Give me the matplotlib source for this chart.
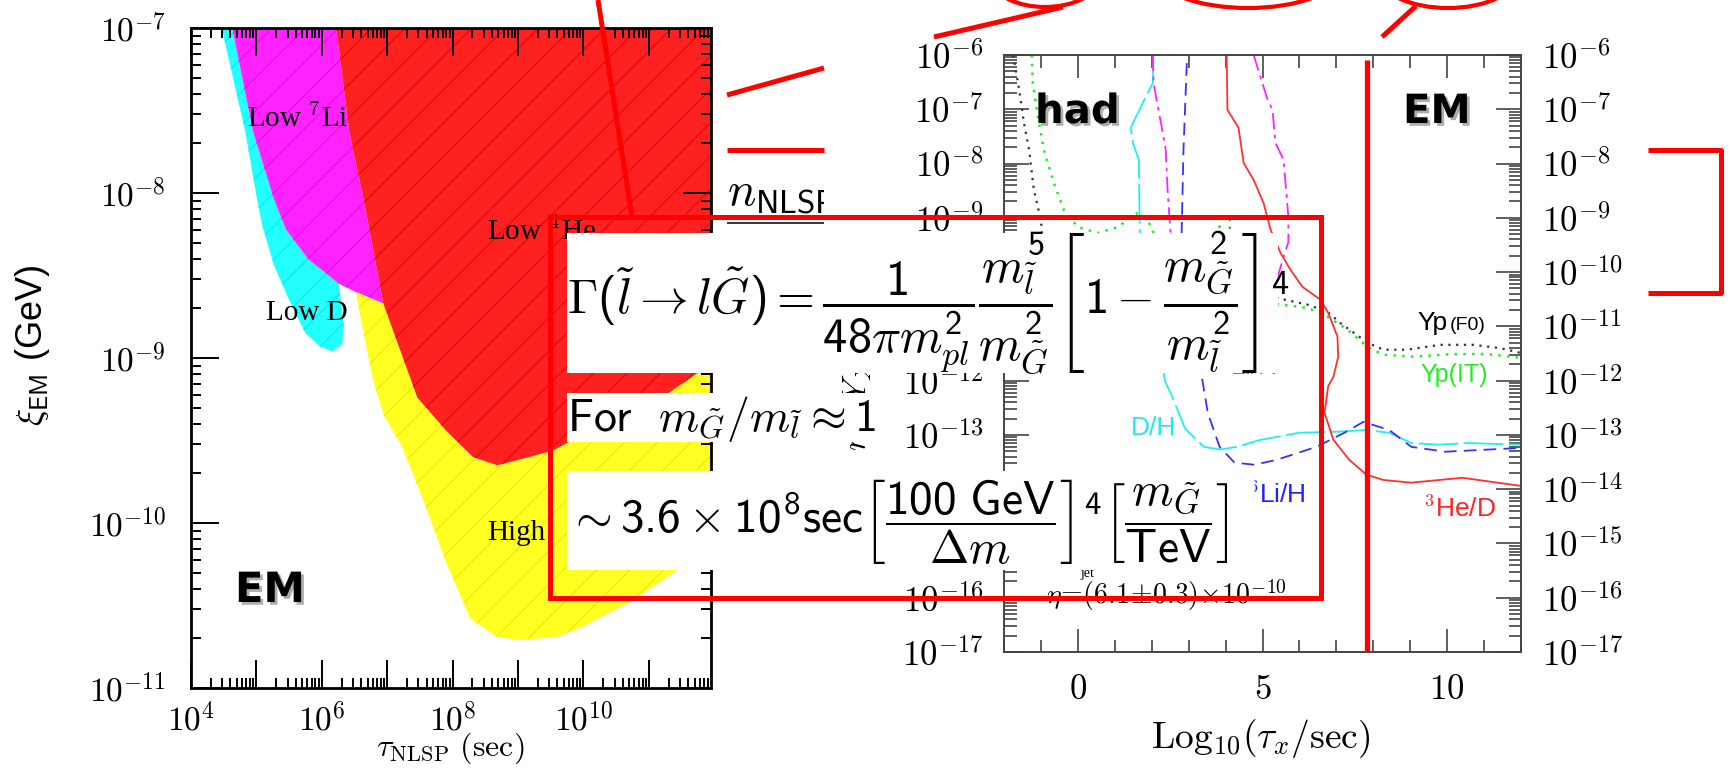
import numpy as np
import matplotlib
matplotlib.use('Agg')
import matplotlib.pyplot as plt
from matplotlib.patches import Rectangle, Ellipse
from matplotlib.lines import Line2D
from matplotlib.transforms import Affine2D, Bbox, TransformedBbox
from matplotlib.ticker import LogLocator, MultipleLocator, FuncFormatter, NullFormatter
import matplotlib.patheffects as pe

plt.rcParams['font.family'] = ['Liberation Sans', 'DejaVu Sans']
plt.rcParams['mathtext.fontset'] = 'cm'
# 'custom' set (sans digits/words, math italic letters) is used by the slide equations
plt.rcParams['mathtext.rm'] = 'cmss10'
plt.rcParams['mathtext.sf'] = 'cmss10'
plt.rcParams['mathtext.it'] = 'cmmi10'
plt.rcParams['mathtext.fallback'] = 'cm'
plt.rcParams['hatch.linewidth'] = 1.0

##############################################################################
# LEFT PANEL DATA  (log10 tau, log10 xi) - excluded regions
##############################################################################
cyan_lx = [4.47, 4.83, 5.01, 5.09, 5.27, 5.49, 5.75, 5.97, 6.16, 6.31, 6.34, 6.26,
           5.79, 5.45, 5.27, 4.95, 4.63]
cyan_ly = [-7.0, -7.63, -8.04, -8.20, -8.44, -8.64, -8.85, -8.93, -8.96, -8.92, -8.81, -8.55,
           -8.40, -8.22, -8.04, -7.63, -7.0]

mag_lx = [4.63, 4.95, 5.27, 5.45, 5.79, 6.26, 6.52, 6.94, 6.64, 6.42, 6.22]
mag_ly = [-7.0, -7.63, -8.04, -8.22, -8.40, -8.55, -8.60, -8.67, -8.04, -7.63, -7.0]

red_lx = [6.22, 11.95, 11.95, 11.75, 11.16, 10.3, 9.54, 9.08, 8.68, 8.31, 7.90, 7.46,
          6.94, 6.64, 6.42]
red_ly = [-7.0, -7.0, -9.06, -9.09, -9.25, -9.40, -9.56, -9.61, -9.65, -9.60, -9.44, -9.24,
          -8.67, -8.04, -7.63]

yel_lx = [6.52, 6.94, 7.46, 7.90, 8.31, 8.68, 9.08, 9.54, 10.3, 11.16, 11.75, 11.95,
          11.95, 11.46, 10.71, 9.98, 9.60, 9.02, 8.68, 8.27, 7.90, 7.53, 7.23, 6.95,
          6.78, 6.64]
yel_ly = [-8.60, -8.67, -9.24, -9.44, -9.60, -9.65, -9.61, -9.56, -9.40, -9.25, -9.09, -9.06,
          -10.21, -10.28, -10.48, -10.63, -10.69, -10.71, -10.69, -10.58, -10.24, -9.84,
          -9.54, -9.35, -9.13, -8.85]

##############################################################################
# RIGHT PANEL DATA  (log10 tau_x, log10 of the bound)
##############################################################################
f0_x = [-1.75, -1.59, -1.46, -1.32, -1.19, -1.0, -0.97, 0.0, 2.0, 4.0, 5.41, 6.22, 6.76,
        7.11, 7.84, 8.27, 8.92, 9.81, 10.70, 11.43, 12.0]
f0_y = [-6.0, -6.64, -7.25, -7.75, -8.49, -9.04, -9.28, -9.8, -10.1, -10.35, -10.48, -10.60,
        -10.73, -10.94, -11.30, -11.43, -11.43, -11.34, -11.34, -11.40, -11.49]

it_x = [-1.25, -1.22, -1.08, -0.92, -0.65, -0.38, 0.0, 0.54, 1.08, 1.62, 1.9, 2.05, 3.0,
        4.5, 5.41, 6.22, 6.76, 7.30, 7.84, 8.27, 9.08, 10.16, 11.08, 12.0]
it_y = [-6.0, -6.52, -7.14, -7.75, -8.36, -8.85, -9.17, -9.28, -9.17, -8.91, -9.05, -9.28,
        -10.0, -10.45, -10.59, -10.66, -10.82, -11.06, -11.38, -11.52, -11.56, -11.51,
        -11.51, -11.58]

it2_x = [3.83, 3.85, 4.0, 4.1, 4.12]
it2_y = [-9.0, -9.6, -9.8, -9.6, -9.0]

dh_x = [2.05, 2.03, 1.89, 1.43, 1.49, 1.65, 1.68, 1.9, 2.3, 2.35, 2.59, 2.9, 3.41, 3.86,
        4.3, 4.95, 6.0, 7.05, 7.81, 8.43, 9.03, 9.78, 10.54, 12.0]
dh_y = [-6.0, -6.52, -6.70, -7.34, -7.62, -7.93, -9.28, -10.5, -11.7, -11.99, -12.35,
        -12.88, -13.22, -13.27, -13.22, -13.09, -12.96, -12.94, -12.91, -12.96, -13.15,
        -13.18, -13.15, -13.18]

li7a_x = [2.03, 2.05, 2.30, 2.38, 2.43, 2.51, 2.6, 2.8]
li7a_y = [-6.0, -6.52, -7.44, -7.75, -8.49, -9.28, -10.0, -10.8]

li6_x = [2.95, 2.86, 2.81, 2.9, 3.2, 3.35, 3.52, 3.84, 4.24, 4.78, 5.38, 6.46, 7.22, 7.73,
         8.43, 9.03, 9.95, 12.0]
li6_y = [-6.15, -7.75, -9.28, -10.5, -11.5, -11.9, -12.6, -13.22, -13.51, -13.55, -13.46,
         -13.22, -12.96, -12.76, -12.91, -13.22, -13.31, -13.24]

he3_x = [4.03, 4.05, 4.35, 4.49, 4.76, 5.03, 5.22, 5.49, 5.76, 6.08, 6.57, 6.78, 7.03,
         7.05, 6.92, 6.78, 6.68, 6.92, 7.35, 7.81, 8.27, 9.03, 10.41, 12.0]
he3_y = [-6.0, -7.01, -7.34, -7.99, -8.30, -8.73, -9.22, -9.65, -9.96, -10.27, -10.51,
         -10.75, -11.19, -11.56, -11.93, -12.10, -12.59, -13.09, -13.46, -13.73, -13.83,
         -13.88, -13.79, -13.94]

li7b_x = [4.76, 5.14, 5.27, 5.35, 5.57, 5.70, 5.70, 5.57, 5.41]
li7b_y = [-6.0, -6.83, -7.01, -7.62, -7.93, -8.98, -9.45, -9.72, -10.09]

em_boundary = 7.84   # log10(tau) where hadronic -> EM

##############################################################################
# FIGURE
##############################################################################
W, H = 1730, 770
fig = plt.figure(figsize=(W / 100, H / 100), dpi=100)
fig.patch.set_facecolor('white')
# slide pixel coordinates (origin top-left) for the overlaid slide elements
PX = Affine2D().scale(1 / 100, -1 / 100).translate(0, H / 100) + fig.dpi_scale_trans

# ---------------- left panel ----------------
ax1 = fig.add_axes([191 / W, 1 - 688 / H, 520 / W, 660 / H])
ax1.set_xscale('log')
ax1.set_yscale('log')
ax1.set_xlim(1e4, 10 ** 11.95)
ax1.set_ylim(1e-11, 1e-7)

regions = [
    (cyan_lx, cyan_ly, '#22ffff', '#10eaea'),
    (mag_lx, mag_ly, '#ff22ff', '#ea10ea'),
    (yel_lx, yel_ly, '#ffff22', '#ecec10'),
    (red_lx, red_ly, '#ff2020', '#ea0c0c'),
]
for lx, ly, fc, hc in regions:
    ax1.fill(10 ** np.array(lx), 10 ** np.array(ly), facecolor=fc, edgecolor=hc,
             hatch='/', lw=0, zorder=1)

ax1.xaxis.set_major_locator(LogLocator(base=10, numticks=20))
ax1.xaxis.set_minor_locator(LogLocator(base=10, subs=np.arange(2, 10), numticks=100))
ax1.yaxis.set_major_locator(LogLocator(base=10, numticks=20))
ax1.yaxis.set_minor_locator(LogLocator(base=10, subs=np.arange(2, 10), numticks=100))
ax1.xaxis.set_major_formatter(FuncFormatter(
    lambda v, p: r'$10^{%d}$' % round(np.log10(v)) if round(np.log10(v)) % 2 == 0 else ''))
ax1.yaxis.set_major_formatter(FuncFormatter(lambda v, p: r'$10^{%d}$' % round(np.log10(v))))
ax1.xaxis.set_minor_formatter(NullFormatter())
ax1.yaxis.set_minor_formatter(NullFormatter())
ax1.tick_params(which='both', direction='in', top=True, right=True, width=1.4, colors='black')
ax1.tick_params(which='major', length=20, labelsize=24)
ax1.tick_params(which='minor', length=7.5)
ax1.tick_params(axis='y', pad=18)
ax1.tick_params(axis='x', pad=11)
for s in ax1.spines.values():
    s.set_linewidth(2.0)
    s.set_zorder(3)

serif = ['Liberation Serif', 'DejaVu Serif']
ax1.text(247, 127, r'Low $^7$Li', transform=PX, family=serif, fontsize=21, va='baseline')
ax1.text(266, 320, 'Low D', transform=PX, family=serif, fontsize=21, va='baseline')
ax1.text(487, 240, r'Low $^4$He', transform=PX, family=serif, fontsize=21, va='baseline')
ax1.text(487, 540, 'High', transform=PX, family=serif, fontsize=21, va='baseline')
shadow = [pe.withSimplePatchShadow(offset=(2, -2), shadow_rgbFace='#777777', alpha=0.6)]
ax1.text(270, 590, 'EM', transform=PX, fontsize=30, fontweight='bold', family='DejaVu Sans',
         ha='center', va='center', path_effects=shadow)

fig.text(32, 345, r'$\xi_{\mathsf{EM}}$ (GeV)', transform=PX, rotation=90, fontsize=26,
         ha='center', va='center')
fig.text(450, 748, r'$\tau_{\mathrm{NLSP}}\ (\mathrm{sec})$', transform=PX, fontsize=23,
         ha='center', va='center')

# ---------------- right panel ----------------
ax2 = fig.add_axes([1004 / W, 1 - 652 / H, 517 / W, 597 / H])
ax2.set_yscale('log')
ax2.set_xlim(-2, 12)
ax2.set_ylim(1e-17, 1e-6)

cw = 1.3
ax2.plot(f0_x, 10 ** np.array(f0_y), color='#333333', ls=(0, (1, 2.5)), lw=1.6)
ax2.plot(it_x, 10 ** np.array(it_y), color='#22ee22', ls=(0, (1, 2.5)), lw=1.8)
ax2.plot(it2_x, 10 ** np.array(it2_y), color='#22aa22', ls=(0, (1, 2.5)), lw=1.6)
ax2.plot(dh_x, 10 ** np.array(dh_y), color='#22eeee', ls=(0, (22, 3)), lw=cw)
ax2.plot(li7a_x, 10 ** np.array(li7a_y), color='#ff22ff', ls=(0, (9, 3, 2, 3)), lw=cw)
ax2.plot(li7b_x, 10 ** np.array(li7b_y), color='#ff22ff', ls=(0, (9, 3, 2, 3)), lw=cw)
ax2.plot(li6_x, 10 ** np.array(li6_y), color='#3333ff', ls=(0, (7, 4)), lw=cw)
ax2.plot(he3_x, 10 ** np.array(he3_y), color='#ff3030', lw=cw)
ax2.plot([em_boundary, em_boundary], [1e-17, 10 ** -6.09], color='#ff0000', lw=3.8,
         solid_capstyle='butt')

ax2.xaxis.set_major_locator(MultipleLocator(5))
ax2.xaxis.set_minor_locator(MultipleLocator(1))
ax2.xaxis.set_major_formatter(FuncFormatter(lambda v, p: '$%d$' % round(v)))
ax2.yaxis.set_major_locator(LogLocator(base=10, numticks=30))
ax2.yaxis.set_minor_locator(LogLocator(base=10, subs=np.arange(2, 10), numticks=200))
ax2.yaxis.set_major_formatter(FuncFormatter(lambda v, p: r'$10^{%d}$' % round(np.log10(v))))
ax2.yaxis.set_minor_formatter(NullFormatter())
ax2.tick_params(which='both', direction='in', top=True, right=True, width=1.2,
                colors='#444444', labelcolor='black')
ax2.tick_params(axis='y', labelleft=True, labelright=True, labelsize=25, pad=15)
ax2.tick_params(axis='x', labelsize=25, pad=15)
ax2.tick_params(axis='y', which='major', length=18)
ax2.tick_params(axis='y', which='minor', length=9)
ax2.tick_params(axis='x', which='major', length=16.5)
ax2.tick_params(axis='x', which='minor', length=9)
for s in ax2.spines.values():
    s.set_linewidth(1.4)
    s.set_color('#444444')

ax2.text(1035, 123, 'had', transform=PX, fontsize=29, fontweight='bold', family='DejaVu Sans',
         va='baseline', path_effects=shadow)
ax2.text(1403, 123, 'EM', transform=PX, fontsize=29, fontweight='bold', family='DejaVu Sans',
         va='baseline', path_effects=shadow)

fig.text(1417, 330, 'Yp', transform=PX, fontsize=19, va='baseline')
fig.text(1450, 330, '(F0)', transform=PX, fontsize=14, va='baseline')
fig.text(1420, 382, 'Yp(IT)', transform=PX, fontsize=18, va='baseline', color='#22ee22')
fig.text(1131, 435, 'D/H', transform=PX, fontsize=19, va='baseline', color='#22e8e8')
fig.text(1247, 503, r'$^6$Li/H', transform=PX, fontsize=19, va='baseline', color='#2222ff')
fig.text(1423, 517, r'$^3$He/D', transform=PX, fontsize=19, va='baseline', color='#ff2222')
fig.text(1218, 380, r'$^7$Li/H', transform=PX, fontsize=19, va='bottom', color='#ff3399')
fig.text(1046, 604, r'$\eta\!=\!(6.1\!\pm\!0.3)\!\times\!10^{-10}$', transform=PX, fontsize=20,
         va='baseline')
fig.text(1080, 577, 'jet', transform=PX, fontsize=10, family=serif, va='baseline')
fig.text(858, 405, r'$m_X Y_X$', transform=PX, fontsize=24, rotation=90, ha='center',
         va='center')
fig.text(1261, 738, r'$\mathrm{Log}_{10}(\tau_x/\mathrm{sec})$', transform=PX, fontsize=27,
         ha='center', va='center')

##############################################################################
# SLIDE OVERLAY (red annotations, equation boxes)
##############################################################################
RED = '#ff0000'


def seg(xs, ys, lw=3.6, color=RED, z=8):
    fig.add_artist(Line2D(xs, ys, transform=PX, color=color, lw=lw, zorder=z,
                          solid_capstyle='butt'))


seg([727, 824], [95, 68])
seg([934, 1063], [37, 7])
seg([1382, 1416], [37, 6])
seg([727, 824], [150, 150])
seg([598, 632], [0, 217])
seg([1648, 1721, 1721, 1648], [150, 150, 293, 293])
seg([727, 824], [223, 223], lw=1.1, color='black')
for cx, cy, ew, eh in [(1045, -20, 104, 54), (1248, -25, 178, 66), (1448, -25, 138, 66)]:
    fig.add_artist(Ellipse((cx, cy), ew, eh, transform=PX, fill=False, ec=RED, lw=3.0,
                           zorder=8))

nt = fig.text(727, 205, r'$n_{\mathsf{NLSP}}$', transform=PX, fontsize=34,
              va='baseline', zorder=4)
nt.set_clip_box(TransformedBbox(Bbox.from_extents(700 / W, 1 - 240 / H, 824 / W, 1 - 140 / H),
                                fig.transFigure))

for x0, y0, bw, bh in [(567, 233, 711, 140), (567, 393, 305, 49), (567, 471, 687, 99)]:
    fig.add_artist(Rectangle((x0, y0), bw, bh, transform=PX, facecolor='white',
                             edgecolor='none', zorder=5))
fig.add_artist(Rectangle((550, 217), 771, 381, transform=PX, fill=False, ec=RED, lw=3.6,
                         zorder=8))

eq1 = (r'$\Gamma(\tilde{l}\rightarrow l\tilde{G}) = '
       r'\dfrac{1}{48\pi m_{pl}^{2}}'
       r'\dfrac{m_{\tilde{l}}^{5}}{m_{\tilde{G}}^{2}}'
       r'\left[1-\dfrac{m_{\tilde{G}}^{2}}{m_{\tilde{l}}^{2}}'
       r'\right]^{4}$')
eq2 = r'$\mathrm{For}\ \ m_{\tilde{G}}/m_{\tilde{l}}\approx 1$'
eq3 = (r'$\sim 3.6\times 10^{8}\mathrm{sec}'
       r'\left[\dfrac{\mathrm{100\ GeV}}{\Delta m}\right]^{4}'
       r'\left[\dfrac{m_{\tilde{G}}}{\mathrm{TeV}}\right]$')
fig.text(567, 303, eq1, transform=PX, fontsize=35, va='center', zorder=6,
         math_fontfamily='custom')
fig.text(567, 419, eq2, transform=PX, fontsize=33, va='center', zorder=6,
         math_fontfamily='custom')
fig.text(567, 522, eq3, transform=PX, fontsize=34, va='center', zorder=6,
         math_fontfamily='custom')

fig.savefig('out.png', dpi=100, facecolor='white')
